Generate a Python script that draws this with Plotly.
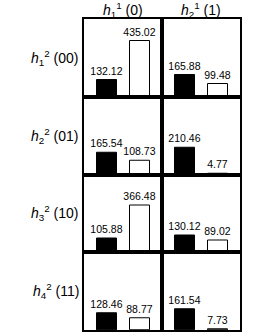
import plotly.graph_objects as go
from plotly.subplots import make_subplots

col_labels = ["<i>h</i><sub>1</sub><sup>1</sup> (0)", "<i>h</i><sub>2</sub><sup>1</sup> (1)"]
row_labels = ["<i>h</i><sub>1</sub><sup>2</sup> (00)", "<i>h</i><sub>2</sub><sup>2</sup> (01)",
              "<i>h</i><sub>3</sub><sup>2</sup> (10)", "<i>h</i><sub>4</sub><sup>2</sup> (11)"]
# values[row][col] = (black, white)
black_vals = [[132.12, 165.88], [165.54, 210.46], [105.88, 130.12], [128.46, 161.54]]
white_vals = [[435.02, 99.48], [108.73, 4.77], [366.48, 89.02], [88.77, 7.73]]

FONT = "Liberation Sans, Arial, sans-serif"
fig = make_subplots(rows=4, cols=2, horizontal_spacing=0, vertical_spacing=0)

for r in range(4):
    for c in range(2):
        b = black_vals[r][c]
        w = white_vals[r][c]
        fig.add_trace(go.Bar(x=[0, 1], y=[b, w],
                             marker=dict(color=["black", "white"],
                                         line=dict(color="black", width=1)),
                             width=0.6,
                             text=[f"{b:.2f}", f"{w:.2f}"],
                             textposition="outside", constraintext="none",
                             textfont=dict(family=FONT, size=10.5, color="black"),
                             cliponaxis=False, showlegend=False, hoverinfo="skip"),
                      row=r + 1, col=c + 1)

fig.update_xaxes(range=[-0.697, 1.667], showticklabels=False, ticks="", showgrid=False,
                 zeroline=False, showline=True, mirror=True, linecolor="black", linewidth=1.5)
fig.update_yaxes(range=[0, 605], showticklabels=False, ticks="", showgrid=False,
                 zeroline=False, showline=True, mirror=True, linecolor="black", linewidth=1.5)

annotations = []
for c, lab in enumerate(col_labels):
    annotations.append(dict(text=lab, x=0.25 + 0.5 * c, y=1, xref="paper", yref="paper",
                            xanchor="center", yanchor="middle", showarrow=False, yshift=9,
                            font=dict(family=FONT, size=14, color="black")))
for r, lab in enumerate(row_labels):
    annotations.append(dict(text=lab, x=0, y=1 - (r + 0.5) * 0.25, xref="paper", yref="paper",
                            xanchor="right", yanchor="middle", showarrow=False, xshift=-3,
                            font=dict(family=FONT, size=14, color="black")))

fig.update_layout(width=273, height=336, margin=dict(l=84, r=33, t=19, b=6),
                  paper_bgcolor="white", plot_bgcolor="white", bargap=0,
                  annotations=annotations)

fig.write_html("out.html", config={"displayModeBar": False},
               post_script="document.body.style.margin='0px';")
